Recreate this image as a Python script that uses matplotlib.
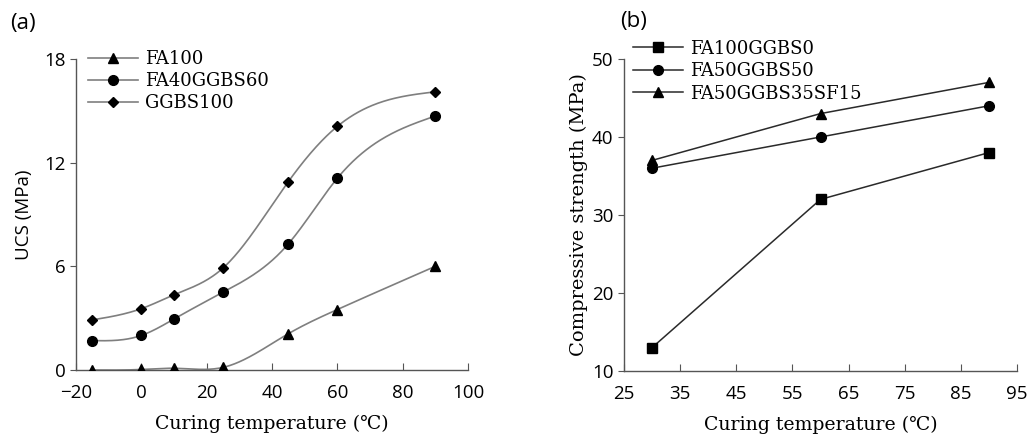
import numpy as np
import matplotlib
matplotlib.use("Agg")
import matplotlib.pyplot as plt

# ---- data, panel (a) ----
temp_a = [-15, 0, 10, 25, 45, 60, 90]
fa100 = [0.0, 0.03, 0.1, 0.15, 2.1, 3.5, 6.0]
fa40ggbs60 = [1.7, 2.0, 2.95, 4.5, 7.3, 11.1, 14.7]
ggbs100 = [2.9, 3.55, 4.35, 5.9, 10.9, 14.1, 16.1]

# ---- data, panel (b) ----
temp_b = [30, 60, 90]
fa100ggbs0 = [13, 32, 38]
fa50ggbs50 = [36, 40, 44]
fa50ggbs35sf15 = [37, 43, 47]

serif = ['DejaVu Serif', 'Noto Sans CJK SC']
sans = ['Open Sans', 'DejaVu Sans']


def smooth(x, y, n=300):
    # natural cubic spline, only used to draw the smoothed line
    x = np.asarray(x, float)
    y = np.asarray(y, float)
    N = len(x)
    h = np.diff(x)
    A = np.zeros((N, N))
    b = np.zeros(N)
    A[0, 0] = A[-1, -1] = 1
    for i in range(1, N - 1):
        A[i, i - 1] = h[i - 1]
        A[i, i] = 2 * (h[i - 1] + h[i])
        A[i, i + 1] = h[i]
        b[i] = 6 * ((y[i + 1] - y[i]) / h[i] - (y[i] - y[i - 1]) / h[i - 1])
    M = np.linalg.solve(A, b)
    xs = np.linspace(x[0], x[-1], n)
    k = np.clip(np.searchsorted(x, xs) - 1, 0, N - 2)
    t1 = x[k + 1] - xs
    t0 = xs - x[k]
    hk = h[k]
    ys = (M[k] * t1**3 + M[k + 1] * t0**3) / (6 * hk) \
        + (y[k] / hk - M[k] * hk / 6) * t1 + (y[k + 1] / hk - M[k + 1] * hk / 6) * t0
    return xs, ys


W, H = 1031, 437
fig = plt.figure(figsize=(W / 100, H / 100), dpi=100)
ax1 = fig.add_axes([76 / W, 1 - 370 / H, 392 / W, 311 / H])
ax2 = fig.add_axes([624 / W, 1 - 371 / H, 393 / W, 312 / H])

gray = '#7f7f7f'
handles = []
for y, mk, ms, lab in [(fa100, '^', 7, 'FA100'),
                       (fa40ggbs60, 'o', 7, 'FA40GGBS60'),
                       (ggbs100, 'D', 5.5, 'GGBS100')]:
    xs, ys = smooth(temp_a, y)
    ax1.plot(xs, ys, color=gray, lw=1.2, zorder=2)
    ax1.plot(temp_a, y, ls='none', marker=mk, ms=ms, color='black', zorder=3)
    h, = ax1.plot([], [], color=gray, lw=1.2, marker=mk, ms=ms,
                  mfc='black', mec='black', label=lab)
    handles.append(h)

ax1.set_xlim(-20, 100)
ax1.set_ylim(0, 18)
ax1.set_xticks([-20, 0, 20, 40, 60, 80, 100])
ax1.set_xticklabels(['\u221220', '0', '20', '40', '60', '80', '100'])
ax1.set_yticks([0, 6, 12, 18])
ax1.set_xlabel('Curing temperature (\u2103)', family=serif, fontsize=13.6, labelpad=9)
ax1.set_ylabel('UCS (MPa)', family=sans, fontsize=13.5, labelpad=8)
ax1.legend(handles=handles, loc='upper left', bbox_to_anchor=(12 / 392, 1.028),
           frameon=False, prop={'family': serif, 'size': 13},
           borderaxespad=0, borderpad=0,
           handlelength=2.75, handletextpad=0.4, labelspacing=0.22)
fig.text(10 / W, 1 - 23 / H, '(a)', family=sans, fontsize=16, va='center')

dark = '#2a2a2a'
for y, mk, ms, lab in [(fa100ggbs0, 's', 6.5, 'FA100GGBS0'),
                       (fa50ggbs50, 'o', 7, 'FA50GGBS50'),
                       (fa50ggbs35sf15, '^', 7, 'FA50GGBS35SF15')]:
    ax2.plot(temp_b, y, color=dark, lw=1.1, marker=mk, ms=ms,
             mfc='black', mec='black', label=lab)

ax2.set_xlim(25, 95)
ax2.set_ylim(10, 50)
ax2.set_xticks(range(25, 96, 10))
ax2.set_yticks([10, 20, 30, 40, 50])
ax2.set_xlabel('Curing temperature (\u2103)', family=serif, fontsize=13.6, labelpad=9)
ax2.set_ylabel('Compressive strength (MPa)', family=serif, fontsize=14, labelpad=3)
ax2.legend(loc='upper left', bbox_to_anchor=(9 / 393, 1.062),
           frameon=False, prop={'family': serif, 'size': 13},
           borderaxespad=0, borderpad=0,
           handlelength=2.75, handletextpad=0.4, labelspacing=0.25)
fig.text(620 / W, 1 - 22 / H, '(b)', family=sans, fontsize=16, va='center')

for ax in (ax1, ax2):
    ax.spines['top'].set_visible(False)
    ax.spines['right'].set_visible(False)
    for s in ('left', 'bottom'):
        ax.spines[s].set_color('#555555')
        ax.spines[s].set_linewidth(1.0)
    ax.tick_params(axis='x', direction='in', length=5, color='#555555', labelsize=13.5, pad=10)
    ax.tick_params(axis='y', direction='out', length=4, color='#555555', labelsize=13.5)
    for lbl in ax.get_xticklabels() + ax.get_yticklabels():
        lbl.set_family(sans)

fig.savefig('out.png', dpi=100)
